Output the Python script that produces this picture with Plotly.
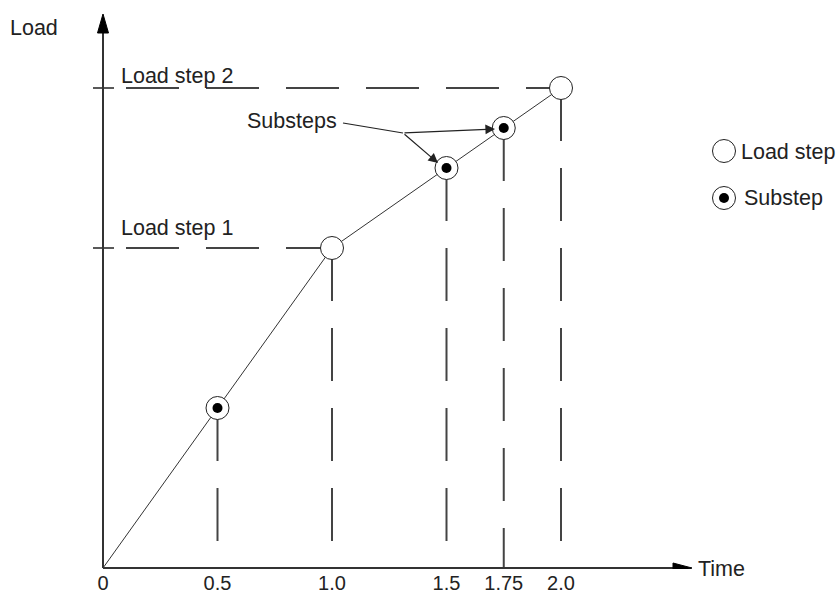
import plotly.graph_objects as go

# ---- data ----
time = [0, 0.5, 1.0, 1.5, 1.75, 2.0]
load = [0, 0.5, 1.0, 1.25, 1.375, 1.5]
load_step_time = [1.0, 2.0]
load_step_load = [1.0, 1.5]
load_step_names = ["Load step 1", "Load step 2"]
substep_time = [0.5, 1.5, 1.75]
substep_load = [0.5, 1.25, 1.375]
tick_vals = [0, 0.5, 1.0, 1.5, 1.75, 2.0]
tick_labels = ["0", "0.5", "1.0", "1.5", "1.75", "2.0"]

# ---- layout geometry (pixels of the 837x595 canvas) ----
W, H = 837, 595
OX, OY = 103, 568        # origin pixel
SX, SY = 229, 320        # pixels per unit
MB = 26                  # bottom margin
PH = H - MB              # plot-area height
x_range = [-OX / SX, (W - OX) / SX]
y_range = [-(PH - OY) / SY, OY / SY]


def px2t(px):
    return (px - OX) / SX


def py2l(py):
    return (OY - py) / SY


def pxp(px):
    return px / W


def pyp(py):
    return 1 - py / PH


INK = "#222222"
DASH = "53px,27px"
FONT = dict(family="Liberation Sans, Arial, sans-serif", size=21.5, color=INK)
TICKFONT = dict(family="Liberation Sans, Arial, sans-serif", size=20, color=INK)

fig = go.Figure()

# polyline through all points
fig.add_trace(go.Scatter(x=time, y=load, mode="lines",
                         line=dict(color="#333333", width=1),
                         hoverinfo="skip", showlegend=False))
# load step markers
fig.add_trace(go.Scatter(x=load_step_time, y=load_step_load, mode="markers",
                         marker=dict(symbol="circle", size=23, color="white",
                                     line=dict(color=INK, width=1)),
                         name="Load step", showlegend=False))
# substep markers
fig.add_trace(go.Scatter(x=substep_time, y=substep_load, mode="markers",
                         marker=dict(symbol="circle", size=23, color="white",
                                     line=dict(color=INK, width=1)),
                         name="Substep", showlegend=False))
fig.add_trace(go.Scatter(x=substep_time, y=substep_load, mode="markers",
                         marker=dict(symbol="circle", size=10, color="black"),
                         hoverinfo="skip", showlegend=False))

shapes = []
# vertical dashed drops
for t, l in zip(time[1:], load[1:]):
    shapes.append(dict(type="line", xref="x", yref="y", x0=t, x1=t, y0=l, y1=0,
                       line=dict(color="#444444", width=2, dash=DASH), layer="below"))
# horizontal dashed lines for load steps
for t, l in zip(load_step_time, load_step_load):
    shapes.append(dict(type="line", xref="x", yref="y", x0=px2t(126), x1=t, y0=l, y1=l,
                       line=dict(color="#444444", width=2, dash=DASH), layer="below"))
    # small crossing tick on the load axis
    shapes.append(dict(type="line", xref="x", yref="y", x0=px2t(93), x1=px2t(114),
                       y0=l, y1=l, line=dict(color=INK, width=1.5)))

# axes lines
x_end = px2t(673)
y_end = py2l(33)
shapes.append(dict(type="line", xref="x", yref="y", x0=0, x1=x_end, y0=0, y1=0,
                   line=dict(color="#333333", width=2)))
shapes.append(dict(type="line", xref="x", yref="y", x0=0, x1=0, y0=0, y1=y_end,
                   line=dict(color="#333333", width=2)))
# arrowheads
shapes.append(dict(type="path", xref="x", yref="y", xsizemode="pixel", ysizemode="pixel",
                   xanchor=x_end, yanchor=0, path="M0,-5 L19,0 L0,5 Z",
                   fillcolor="black", line=dict(color="black", width=1)))
shapes.append(dict(type="path", xref="x", yref="y", xsizemode="pixel", ysizemode="pixel",
                   xanchor=0, yanchor=y_end, path="M-5.5,0 L0,19 L5.5,0 Z",
                   fillcolor="black", line=dict(color="black", width=1)))
# "Substeps" leader line
jx, jy = px2t(403), py2l(133)
shapes.append(dict(type="line", xref="x", yref="y", x0=px2t(343), y0=py2l(123), x1=jx, y1=jy,
                   line=dict(color=INK, width=1.2)))

annotations = []
# substeps arrows
for tx, ty in [(495, 129), (438, 163)]:
    annotations.append(dict(x=px2t(tx), y=py2l(ty), ax=jx, ay=jy, xref="x", yref="y",
                            axref="x", ayref="y", text="", showarrow=True,
                            arrowhead=2, arrowsize=1.6, arrowwidth=1.2,
                            arrowcolor=INK, standoff=0, startstandoff=0))


def label(text, px, py):
    annotations.append(dict(text=text, x=pxp(px), y=pyp(py), xref="paper", yref="paper",
                            xanchor="left", yanchor="middle", showarrow=False, font=FONT))


label("Load", 8, 28)
label("Time", 696, 569)
label("Substeps", 245, 121)
label(load_step_names[1], 119, 76)
label(load_step_names[0], 119, 228)
label("Load step", 739, 152)
label("Substep", 742, 198)

# legend symbols
leg_x = px2t(724)
fig.add_trace(go.Scatter(x=[leg_x], y=[py2l(151)], mode="markers",
                         marker=dict(symbol="circle", size=23, color="white",
                                     line=dict(color=INK, width=1)),
                         hoverinfo="skip", showlegend=False, cliponaxis=False))
fig.add_trace(go.Scatter(x=[leg_x], y=[py2l(198)], mode="markers",
                         marker=dict(symbol="circle", size=23, color="white",
                                     line=dict(color=INK, width=1)),
                         hoverinfo="skip", showlegend=False, cliponaxis=False))
fig.add_trace(go.Scatter(x=[leg_x], y=[py2l(198)], mode="markers",
                         marker=dict(symbol="circle", size=10, color="black"),
                         hoverinfo="skip", showlegend=False, cliponaxis=False))

fig.update_layout(
    width=W, height=H,
    margin=dict(l=0, r=0, t=0, b=MB, autoexpand=False),
    paper_bgcolor="white", plot_bgcolor="white",
    shapes=shapes, annotations=annotations,
    font=FONT,
    xaxis=dict(range=x_range, showgrid=False, zeroline=False, showline=False,
               tickvals=tick_vals, ticktext=tick_labels, ticks="",
               tickfont=TICKFONT, fixedrange=True, automargin=False),
    yaxis=dict(range=y_range, visible=False, fixedrange=True, automargin=False),
    showlegend=False,
)

fig.write_html("out.html", config={"displayModeBar": False},
               post_script="document.body.style.margin='0';document.body.style.padding='0';")
